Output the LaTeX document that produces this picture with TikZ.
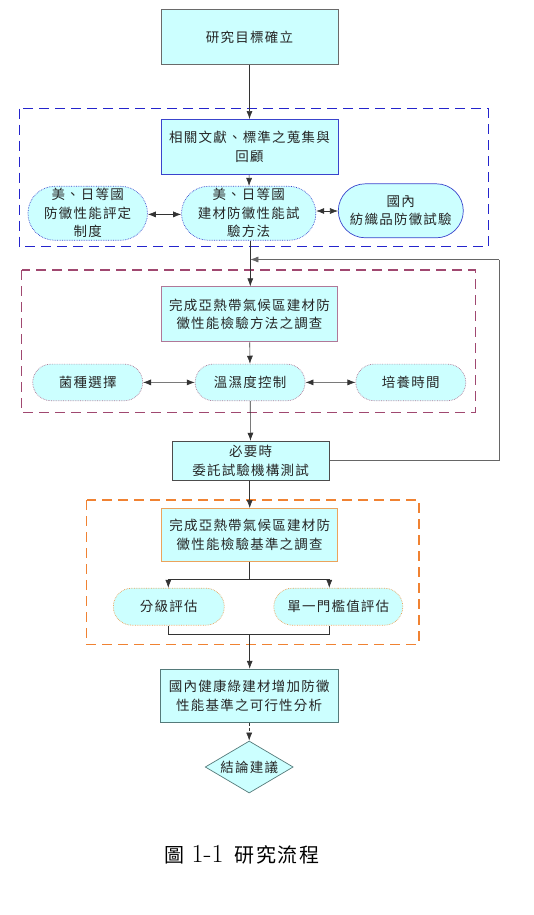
\documentclass[tikz,border=0pt]{standalone}
\usepackage{fontspec}
\newfontfamily\cjk[LetterSpace=9]{Noto Sans CJK TC}
\newfontfamily\cjkcap[LetterSpace=8]{Noto Sans CJK TC}
\usetikzlibrary{arrows.meta,shapes.geometric,shapes.misc}
\definecolor{boxfill}{HTML}{CCFFFF}
\definecolor{frameblue}{HTML}{2424CC}
\definecolor{framepurple}{HTML}{A04870}
\definecolor{frameorange}{HTML}{F08232}
\definecolor{lineblue}{HTML}{3A44CC}
\definecolor{linepurple}{HTML}{B07898}
\definecolor{lineorange}{HTML}{EBA35C}
\definecolor{linegray}{HTML}{6A6A6A}
\definecolor{lineteal}{HTML}{557A7A}
\begin{document}
\begin{tikzpicture}[x=1pt,y=-1pt,
	every node/.style={font=\cjk\fontsize{13.5}{18.5}\selectfont, text=black!85, align=center, inner sep=0pt},
	stepbox/.style={rectangle, draw=#1, fill=boxfill, line width=0.9pt},
	roundbox/.style={rounded rectangle, draw=#1, fill=boxfill, densely dotted, line width=0.7pt},
	group/.style={draw=#1, dash pattern=on 10pt off 6pt, line width=1.3pt},
	link/.style={draw=black!80, line width=0.6pt},
	arr/.style={link, -{Latex[length=8pt,width=6pt]}},
	biarr/.style={link, {Latex[length=8pt,width=6pt]}-{Latex[length=8pt,width=6pt]}}]
	\useasboundingbox (0,0) rectangle (534,915);
	% group frames
	\draw [group=frameblue] (19.5,108.7) rectangle (488.2,246.8);
	\draw [group=framepurple] (21.5,270.1) rectangle (475.2,412.6);
	\draw [group=frameorange] (86.7,500) rectangle (419,644.3);
	% main steps
	\node (goal) at (249.5,37) [stepbox=linegray, minimum width=177pt, minimum height=55pt] {研究目標確立};
	\node (review) at (249.5,147) [stepbox=lineblue, minimum width=177pt, minimum height=55pt] {相關文獻、標準之蒐集與\\回顧};
	\node (stdL) at (87.7,213.3) [roundbox=lineblue, minimum width=110pt, minimum height=54pt] {美、日等國\\防黴性能評定\\制度};
	\node (testM) at (248.7,213.3) [roundbox=lineblue, minimum width=117pt, minimum height=54pt] {美、日等國\\建材防黴性能試\\驗方法};
	\node (textR) at (400.8,210.8) [roundbox=lineblue, solid, minimum width=125pt, minimum height=54pt] {國內\\紡織品防黴試驗};
	\node (method) at (249.5,314.3) [stepbox=linepurple, minimum width=176pt, minimum height=55pt] {完成亞熱帶氣候區建材防\\黴性能檢驗方法之調查};
	\node (fungus) at (87.7,382.4) [roundbox=linepurple, minimum width=110pt, minimum height=36.6pt] {菌種選擇};
	\node (humid) at (250.1,382.4) [roundbox=linepurple, minimum width=110pt, minimum height=36.6pt] {溫濕度控制};
	\node (culture) at (410.8,382.4) [roundbox=linepurple, minimum width=110pt, minimum height=36.6pt] {培養時間};
	\node (commission) at (250.6,460.7) [stepbox=black!70, minimum width=157pt, minimum height=39pt] {必要時\\委託試驗機構測試};
	\node (criteria) at (249.7,535) [stepbox=lineorange, minimum width=176pt, minimum height=53pt] {完成亞熱帶氣候區建材防\\黴性能檢驗基準之調查};
	\node (grade) at (168.8,606.7) [roundbox=lineorange, minimum width=111pt, minimum height=37pt] {分級評估};
	\node (single) at (338.3,606.7) [roundbox=lineorange, minimum width=129pt, minimum height=37pt] {單一門檻值評估};
	\node (feasibility) at (249.2,695.7) [stepbox=lineteal, minimum width=178pt, minimum height=53pt] {國內健康綠建材增加防黴\\性能基準之可行性分析};
	\node (conclude) at (249.2,767) [diamond, draw=lineteal, fill=boxfill, line width=0.7pt, minimum width=88pt, minimum height=52pt, aspect=1.7] {結論建議};
	\node (caption) at (242,855) [font=\fontsize{20}{24}\selectfont, text=black] {{\cjkcap 圖}\hspace{7pt}{\rmfamily\fontsize{26}{24}\selectfont 1-1}\hspace{11pt}{\cjkcap 研究流程}};
	% helper points
	\coordinate (fb) at (250.3,259.5);
	\coordinate (loop) at (499,259.5);
	\coordinate (split) at (249.7,579.3);
	\coordinate (splitL) at (168.3,579.3);
	\coordinate (splitR) at (329.3,579.3);
	\coordinate (join) at (249.7,634);
	\coordinate (joinL) at (168.3,634);
	\coordinate (joinR) at (329.3,634);
	% connectors
	\draw [arr] (goal) -- (review);
	\draw [arr] (review) -- (testM);
	\draw [biarr] (stdL.east |- 0,214.4) -- (testM.west |- 0,214.4);
	\draw [biarr] (testM.east |- 0,211) -- (textR.west |- 0,211);
	\draw [arr] (testM.south -| fb) -- (method.north -| fb);
	\draw [arr] (method) -- (humid);
	\draw [biarr] (fungus) -- (humid);
	\draw [biarr] (humid) -- (culture);
	\draw [arr] (humid) -- (commission);
	\draw [link, draw=black!60] (commission.east) -| (loop);
	\draw [arr, draw=black!60] (loop) -- (fb);
	\draw [arr] (commission.south -| split) -- (criteria.north -| split);
	\draw [link] (criteria.south -| split) -- (split);
	\draw [link] (splitL) -- (splitR);
	\draw [arr] (splitL) -- (splitL |- grade.north);
	\draw [arr] (splitR) -- (splitR |- single.north);
	\draw [link] (grade.south -| joinL) -- (joinL) -- (joinR) -- (single.south -| joinR);
	\draw [arr] (join) -- (feasibility.north -| join);
	\draw [arr, densely dashed] (feasibility) -- (conclude);
\end{tikzpicture}
\end{document}
